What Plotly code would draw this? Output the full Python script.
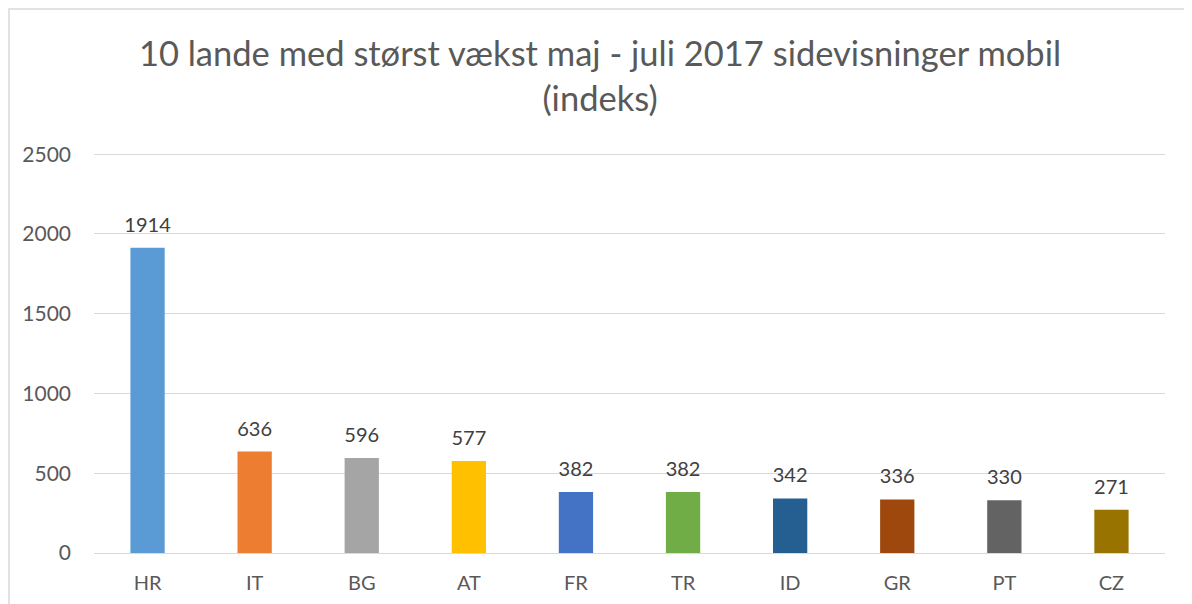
import plotly.graph_objects as go

categories = ["HR", "IT", "BG", "AT", "FR", "TR", "ID", "GR", "PT", "CZ"]
values = [1914, 636, 596, 577, 382, 382, 342, 336, 330, 271]
colors = ["#5B9BD5", "#ED7D31", "#A5A5A5", "#FFC000", "#4472C4",
          "#70AD47", "#255E91", "#9E480E", "#636363", "#997300"]
tick_vals = [0, 500, 1000, 1500, 2000, 2500]

FONT = "Lato, 'Open Sans', sans-serif"

W, Hfig = 1184, 596
L, R, T, B = 86, 27, 143, 51
PW, PH = W - L - R, Hfig - T - B

fig = go.Figure()
fig.add_trace(go.Bar(
    x=categories, y=values,
    marker=dict(color=colors, line=dict(width=0)),
    hoverinfo="x+y",
))
fig.add_trace(go.Scatter(
    x=categories, y=values, mode="markers+text",
    text=[str(v) for v in values], textposition="top center",
    marker=dict(size=16, opacity=0),
    textfont=dict(size=20, color="#404040", family=FONT),
    cliponaxis=False, hoverinfo="skip",
))

fig.update_layout(
    width=W, height=Hfig,
    margin=dict(l=L, r=R, t=T, b=B, autoexpand=False),
    paper_bgcolor="white", plot_bgcolor="white",
    bargap=0.68,
    showlegend=False,
    font=dict(family=FONT, color="#595959"),
    title=dict(
        text="10 lande med størst vækst maj - juli 2017 sidevisninger mobil<br>(indeks)",
        x=0.5, xanchor="center", y=1 - 58 / Hfig, yanchor="middle",
        font=dict(size=34.5, color="#595959", family=FONT),
    ),
    xaxis=dict(range=[-0.5, len(categories) - 0.5], showgrid=False,
               showline=False, ticks="", automargin=False,
               tickfont=dict(size=20, color="#595959"), ticklabelstandoff=16),
    yaxis=dict(range=[0, 2520], tickvals=tick_vals, showgrid=True,
               gridcolor="#D9D9D9", gridwidth=1.3, zeroline=True,
               zerolinecolor="#D9D9D9", zerolinewidth=1.3, showline=False,
               ticks="", automargin=False,
               tickfont=dict(size=21, color="#595959"),
               ticklabelstandoff=22),
    shapes=[dict(type="rect", xref="paper", yref="paper",
                 x0=(1 - L) / PW, x1=1.1, y0=-0.3, y1=1 + (T - 1) / PH,
                 line=dict(color="#D9D9D9", width=1.5), fillcolor="rgba(0,0,0,0)",
                 layer="below")],
)

fig.write_html("out.html")
